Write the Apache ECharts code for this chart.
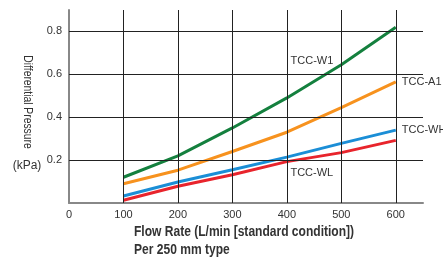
<!DOCTYPE html>
<html>
<head>
<meta charset="utf-8">
<script src="https://cdn.jsdelivr.net/npm/echarts@6/dist/echarts.min.js"></script>
<style>
html,body{margin:0;padding:0;background:#fff;}
#chart{width:443px;height:259px;}
</style>
</head>
<body>
<div id="chart"></div>
<script>
// flow rate (L/min)
var flow = [100, 200, 300, 400, 500, 600];
// differential pressure (kPa)
var w1 = [0.12, 0.22, 0.35, 0.49, 0.645, 0.82];
var a1 = [0.09, 0.153, 0.24, 0.33, 0.445, 0.565];
var wh = [0.033, 0.098, 0.155, 0.214, 0.278, 0.34];
var wl = [0.013, 0.078, 0.132, 0.193, 0.235, 0.292];
var xGrid = [100, 200, 300, 400, 500, 600];
var yGrid = [0.2, 0.4, 0.6, 0.8];

var myChart = echarts.init(document.getElementById('chart'));

function pts(ys) {
	return flow.map(function (x, i) { return [x, ys[i]]; });
}

var lbl = {fontFamily: 'Liberation Sans', fontSize: 11, color: '#333'};

var option = {
	animation: false,
	grid: {left: 69, right: 20, top: 10, bottom: 56},
	xAxis: {
		type: 'value', min: 0, max: 650, interval: 100,
		axisLine: {lineStyle: {color: '#888', width: 2}},
		axisTick: {show: false},
		splitLine: {show: false},
		axisLabel: {
			fontFamily: 'Liberation Sans', fontSize: 11, color: '#333', margin: 6,
			formatter: function (v) { return v > 600 ? '' : v; }
		}
	},
	yAxis: {
		type: 'value', min: 0, max: 0.9, interval: 0.2,
		axisLine: {show: true, lineStyle: {color: '#888', width: 2}},
		axisTick: {show: false},
		splitLine: {show: false},
		axisLabel: {
			fontFamily: 'Liberation Sans', fontSize: 11, color: '#333', margin: 7,
			formatter: function (v) { return (v > 0 && v < 0.85) ? v.toFixed(1) : ''; }
		}
	},
	series: [
		{
			type: 'line', data: [], silent: true,
			markLine: {
				symbol: 'none', silent: true, label: {show: false},
				lineStyle: {color: '#222', width: 1, type: 'solid'},
				data: xGrid.map(function (v) { return {xAxis: v}; })
					.concat(yGrid.map(function (v) { return {yAxis: v}; }))
			}
		},
		{
			name: 'TCC-WL', type: 'line', data: pts(wl), symbol: 'none',
			lineStyle: {color: '#e8242c', width: 3},
			markPoint: {
				symbolSize: 0, silent: true,
				label: Object.assign({show: true, formatter: 'TCC-WL', position: 'bottom', offset: [25, 1]}, lbl),
				data: [{coord: [flow[3], wl[3]]}]
			}
		},
		{
			name: 'TCC-WH', type: 'line', data: pts(wh), symbol: 'none',
			lineStyle: {color: '#1b8ed6', width: 3},
			endLabel: Object.assign({show: true, formatter: 'TCC-WH', distance: 6}, lbl)
		},
		{
			name: 'TCC-A1', type: 'line', data: pts(a1), symbol: 'none',
			lineStyle: {color: '#f7921e', width: 3},
			endLabel: Object.assign({show: true, formatter: 'TCC-A1', distance: 6}, lbl)
		},
		{
			name: 'TCC-W1', type: 'line', data: pts(w1), symbol: 'none',
			lineStyle: {color: '#14803e', width: 3},
			markPoint: {
				symbolSize: 0, silent: true,
				label: Object.assign({show: true, formatter: 'TCC-W1', position: 'left', offset: [-3, -4]}, lbl),
				data: [{coord: [flow[4], w1[4]]}]
			}
		}
	],
	graphic: [
		{type: 'text', x: 27, y: 102, rotation: -Math.PI / 2, scaleX: 0.86,
			style: {text: 'Differential Pressure', fontFamily: 'Liberation Sans', fontSize: 12, fill: '#333', align: 'center', verticalAlign: 'middle'}},
		{type: 'text', x: 27, y: 166,
			style: {text: '(kPa)', fontFamily: 'Liberation Sans', fontSize: 12, fill: '#333', align: 'center', verticalAlign: 'middle'}},
		{type: 'text', x: 134, y: 232, scaleX: 0.86,
			style: {text: 'Flow Rate (L/min [standard condition])', fontFamily: 'Liberation Sans', fontWeight: 'bold', fontSize: 14, fill: '#333', verticalAlign: 'middle'}},
		{type: 'text', x: 134, y: 250, scaleX: 0.86,
			style: {text: 'Per 250 mm type', fontFamily: 'Liberation Sans', fontWeight: 'bold', fontSize: 14, fill: '#333', verticalAlign: 'middle'}}
	]
};

myChart.setOption(option);
</script>
</body>
</html>
